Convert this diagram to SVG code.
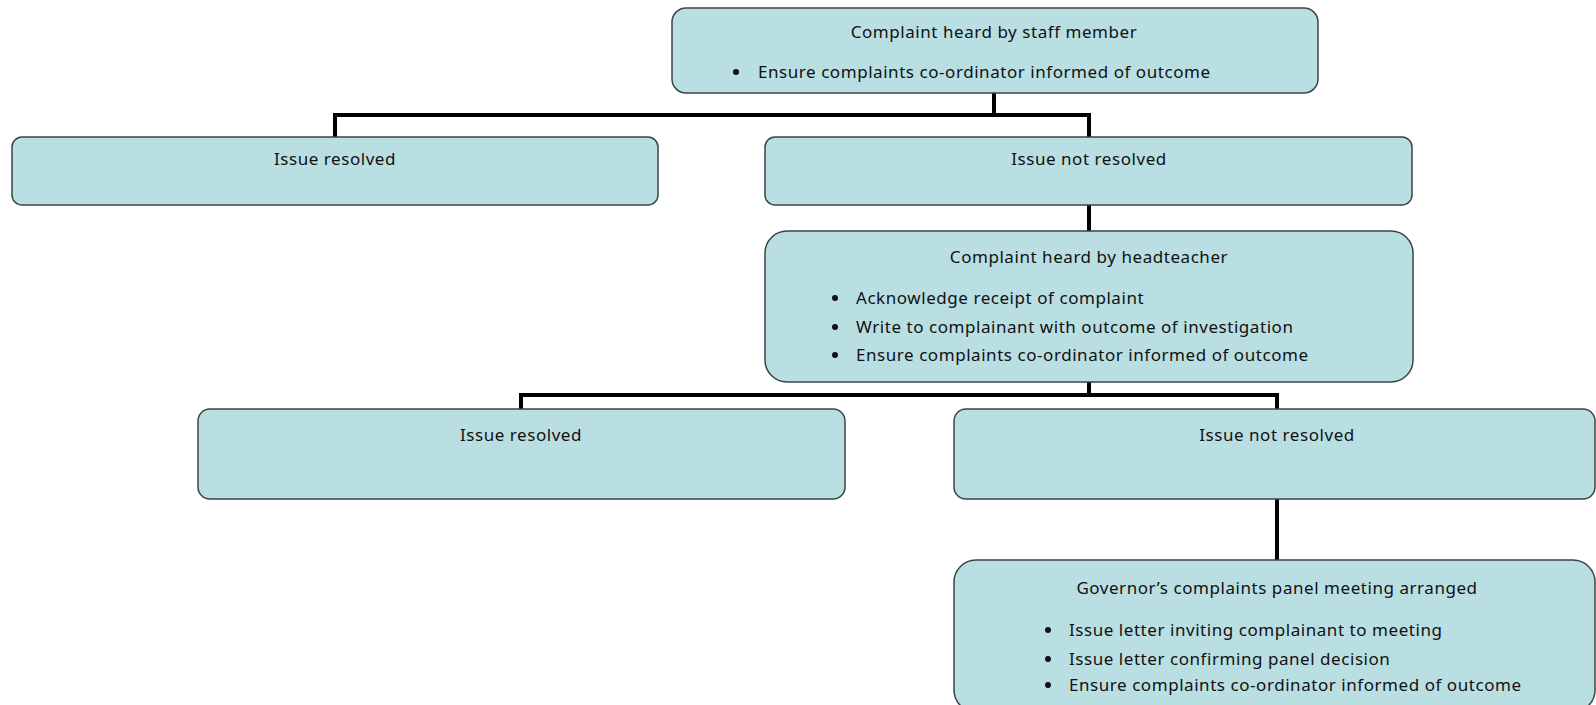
<svg xmlns="http://www.w3.org/2000/svg" width="1596" height="705" viewBox="0 0 1596 705">
<style>
.box{fill:#b9dfe3;stroke:#3c4446;stroke-width:1.5}
.t{font-family:"Noto Sans","Open Sans",sans-serif;font-size:17px;letter-spacing:0.55px;fill:#111}
.c{text-anchor:middle}
.b{fill:#111}
.con{fill:none;stroke:#000;stroke-width:4}
</style>
<g id="connectors">
<path class="con" d="M994 93V115M335 137V115H1089V137"/>
<path class="con" d="M1089 205V231"/>
<path class="con" d="M1089 382V395M521 409V395H1277V409"/>
<path class="con" d="M1277 499V560"/>
</g>
<g id="n1">
<rect class="box" x="672" y="8" width="646" height="85" rx="14"/>
<text class="t c" x="994" y="38">Complaint heard by staff member</text>
<circle class="b" cx="736" cy="72" r="3"/>
<text class="t" x="758" y="78">Ensure complaints co-ordinator informed of outcome</text>
</g>
<g id="n2">
<rect class="box" x="12" y="137" width="646" height="68" rx="10"/>
<text class="t c" x="335" y="165">Issue resolved</text>
</g>
<g id="n3">
<rect class="box" x="765" y="137" width="647" height="68" rx="10"/>
<text class="t c" x="1089" y="165">Issue not resolved</text>
</g>
<g id="n4">
<rect class="box" x="765" y="231" width="648" height="151" rx="22"/>
<text class="t c" x="1089" y="263">Complaint heard by headteacher</text>
<circle class="b" cx="835" cy="298" r="3"/>
<text class="t" x="856" y="304">Acknowledge receipt of complaint</text>
<circle class="b" cx="835" cy="327" r="3"/>
<text class="t" x="856" y="333">Write to complainant with outcome of investigation</text>
<circle class="b" cx="835" cy="355" r="3"/>
<text class="t" x="856" y="361">Ensure complaints co-ordinator informed of outcome</text>
</g>
<g id="n5">
<rect class="box" x="198" y="409" width="647" height="90" rx="12"/>
<text class="t c" x="521" y="441">Issue resolved</text>
</g>
<g id="n6">
<rect class="box" x="954" y="409" width="641" height="90" rx="12"/>
<text class="t c" x="1277" y="441">Issue not resolved</text>
</g>
<g id="n7">
<rect class="box" x="954" y="560" width="641" height="152" rx="22"/>
<text class="t c" x="1277" y="594">Governor’s complaints panel meeting arranged</text>
<circle class="b" cx="1048" cy="630" r="3"/>
<text class="t" x="1069" y="636">Issue letter inviting complainant to meeting</text>
<circle class="b" cx="1048" cy="659" r="3"/>
<text class="t" x="1069" y="665">Issue letter confirming panel decision</text>
<circle class="b" cx="1048" cy="685" r="3"/>
<text class="t" x="1069" y="691">Ensure complaints co-ordinator informed of outcome</text>
</g>
</svg>
